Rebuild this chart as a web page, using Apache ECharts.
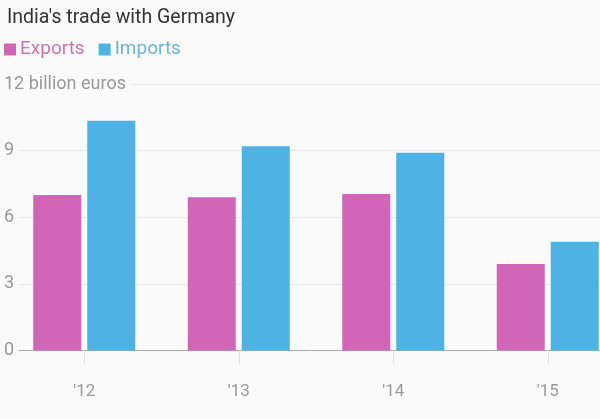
<!DOCTYPE html>
<html><head><meta charset="utf-8">
<script src="https://cdn.jsdelivr.net/npm/echarts@6/dist/echarts.min.js"></script>
<style>html,body{margin:0;padding:0;background:#fafafa;overflow:hidden}#c{width:625px;height:419px}</style>
</head><body><div id="c"></div>
<script>
var categories = ["'12", "'13", "'14", "'15"];
var exportsData = [7.0, 6.9, 7.05, 3.9];
var importsData = [10.35, 9.2, 8.9, 4.9];
var yTicks = [0, 3, 6, 9, 12];
var yTopLabel = '12 billion euros';

var FONT = 'Roboto';
var chart = echarts.init(document.getElementById('c'), null, {renderer: 'canvas'});
chart.setOption({
  backgroundColor: '#fafafa',
  animation: false,
  textStyle: {fontFamily: FONT},
  title: {
    text: "India's trade with Germany", left: 2, top: 3,
    textStyle: {fontFamily: FONT, fontSize: 19.5, fontWeight: 'normal', color: '#333'}
  },
  legend: {
    left: 4, top: 40, padding: 0, itemWidth: 12, itemHeight: 12, itemGap: 14,
    icon: 'rect',
    data: [
      {name: 'Exports', textStyle: {color: '#c876b8'}},
      {name: 'Imports', textStyle: {color: '#6fb2da'}}
    ],
    textStyle: {fontFamily: FONT, fontSize: 19, padding: [0, 0, 0, -1]}
  },
  grid: [
    {left: 19, right: 25, top: 84, bottom: 68.5},
    {left: 7, right: 0, top: 84, bottom: 68.5}
  ],
  xAxis: [
    {gridIndex: 0, type: 'category', data: categories, axisLine: {lineStyle: {color: '#aaa', width: 1}},
     axisTick: {show: false}, axisLabel: {show: false}},
    {gridIndex: 1, type: 'category', data: categories, axisLine: {show: false},
     axisTick: {show: true, alignWithLabel: true, length: 14, lineStyle: {color: '#e2e2e2'}},
     axisLabel: {margin: 33, fontFamily: FONT, fontSize: 17, color: '#999'}}
  ],
  yAxis: [
    {gridIndex: 0, type: 'value', min: 0, max: 12, interval: 3,
     axisLine: {show: false}, axisTick: {show: false},
     splitLine: {lineStyle: {color: '#e8e8e8'}},
     axisLabel: {
       align: 'left', margin: 15, fontFamily: FONT, fontSize: 18, color: '#999',
       formatter: function (v) { return v === 12 ? '{top|' + yTopLabel + '}' : String(v); },
       rich: {top: {fontFamily: FONT, fontSize: 18, color: '#999', backgroundColor: '#fafafa', padding: [2, 6, 2, 0]}}
     }},
    {gridIndex: 1, type: 'value', min: 0, max: 12, interval: 3, show: false}
  ],
  series: [
    {name: 'Exports', type: 'bar', xAxisIndex: 1, yAxisIndex: 1, data: exportsData,
     barWidth: 48, barGap: '12.5%', itemStyle: {color: '#d166b9'}},
    {name: 'Imports', type: 'bar', xAxisIndex: 1, yAxisIndex: 1, data: importsData,
     barWidth: 48, barGap: '12.5%', itemStyle: {color: '#4fb2e5'}}
  ]
});
</script></body></html>
